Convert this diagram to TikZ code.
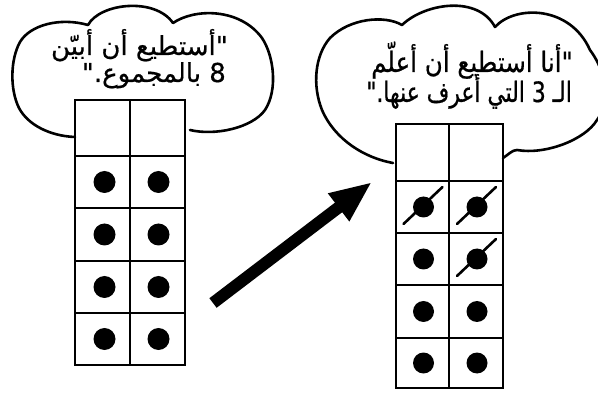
\documentclass[tikz,border=0pt]{standalone}
\usepackage{fontspec}
\newfontfamily\arabicfont[Script=Arabic, FakeBold=0.6]{DejaVu Sans}
\newfontfamily\arabicnarrowA[Script=Arabic, FakeBold=0.6, FakeStretch=0.875]{DejaVu Sans}
\newfontfamily\arabicnarrowB[Script=Arabic, FakeBold=0.6, FakeStretch=0.78]{DejaVu Sans}
\TeXXeTstate=1
\usetikzlibrary{arrows.meta}
\tikzset{
  cell/.style={draw=black, line width=2pt, rectangle, minimum width=55, inner sep=0pt, outer sep=0pt},
  rcell/.style={draw=black, line width=2pt, rectangle, minimum width=53.5, inner sep=0pt, outer sep=0pt},
  dot/.style={circle, fill=black, draw=none, minimum size=22, inner sep=0pt},
  rdot/.style={circle, fill=black, draw=none, minimum size=21, inner sep=0pt},
  slash/.style={line width=2.6pt, line cap=round},
  cloud/.style={draw=black, line width=2.6pt, line cap=round, line join=round},
  bigarrow/.style={line width=12pt, line cap=butt, -{Triangle[length=42pt,width=32pt]}},
  lbl/.style={inner sep=0pt, anchor=base east, text=black},
}
\begin{document}
\begin{tikzpicture}[x=1pt, y=-1pt]
\useasboundingbox (0,0) rectangle (598,393);
\clip (0,0) rectangle (598,393);
\fill[white] (0,0) rectangle (598,393);

% left ten-frame (two columns)
\foreach \r/\yt/\yb in {0/100/156,1/156/208,2/208/261,3/261/313,4/313/365} {
  \node[cell, minimum height={\yb-\yt}] (L\r a) at (102.5,{(\yt+\yb)/2}) {};
  \node[cell, minimum height={\yb-\yt}] (L\r b) at (157.5,{(\yt+\yb)/2}) {};
}
\foreach \r in {1,2,3,4} {
  \node[dot] (Ld\r a) at ([xshift=2]L\r a.center) {};
  \node[dot] (Ld\r b) at ([xshift=1]L\r b.center) {};
}

% right ten-frame
\foreach \r/\yt/\yb in {0/124/181,1/181/233,2/233/285,3/285/338,4/338/388} {
  \node[rcell, minimum height={\yb-\yt}] (R\r a) at (422.5,{(\yt+\yb)/2}) {};
  \node[rcell, minimum height={\yb-\yt}] (R\r b) at (476,{(\yt+\yb)/2}) {};
}
\foreach \r in {1,2,3,4} {
  \node[rdot] (Rd\r a) at ([xshift=1]R\r a.center) {};
  \node[rdot] (Rd\r b) at ([xshift=1]R\r b.center) {};
}
\draw[slash] ([shift={(-20,17)}]Rd1a.center) -- ([shift={(19,-20)}]Rd1a.center);
\draw[slash] ([shift={(-20,17)}]Rd1b.center) -- ([shift={(19,-20)}]Rd1b.center);
\draw[slash] ([shift={(-20,17)}]Rd2b.center) -- ([shift={(19,-20)}]Rd2b.center);

% left thought cloud
\coordinate (lc1) at (75,137);
\coordinate (lc2) at (190,130);
\draw[cloud] (lc1)
  .. controls (50,136) and (28,125) .. (19,108)
  .. controls (10,90) and (10,60) .. (20,42)
  .. controls (30,25) and (60,17) .. (88,25)
  .. controls (100,3) and (155,-3) .. (173,23)
  .. controls (195,8) and (240,8) .. (262,38)
  .. controls (274,56) and (278,90) .. (265,110)
  .. controls (252,128) and (215,136) .. (lc2);

% right thought cloud
\coordinate (rc1) at (393,163);
\coordinate (rc2) at (503,158);
\draw[cloud] (rc1)
  .. controls (365,158) and (335,140) .. (322,110)
  .. controls (312,85) and (315,55) .. (330,38)
  .. controls (350,18) and (385,15) .. (402,25)
  .. controls (425,3) and (478,-5) .. (495,27)
  .. controls (515,5) and (570,5) .. (590,50)
  .. controls (605,70) and (612,100) .. (597,120)
  .. controls (585,140) and (545,155) .. (517,150)
  .. controls (512,150) and (508,155) .. (rc2);

% texts
\node[lbl, font=\arabicfont\fontsize{26}{30}\selectfont] (lt1) at (228,55) {\beginR"أستطيع أن أبيّن\endR};
\node[lbl, font=\arabicfont\fontsize{26}{30}\selectfont] (lt2) at (226,82) {\beginR 8 بالمجموع."\endR};
\node[lbl, font=\arabicnarrowA\fontsize{28}{32}\selectfont] (rt1) at (573,72) {\beginR"أنا أستطيع أن أعلّم\endR};
\node[lbl, font=\arabicnarrowB\fontsize{28}{32}\selectfont] (rt2) at (572,102) {\beginR الـ 3 التي أعرف عنها."\endR};

% big arrow
\coordinate (atail) at (213,303);
\coordinate (atip) at (372,182);
\draw[bigarrow] (atail) -- (atip);
\end{tikzpicture}
\end{document}
